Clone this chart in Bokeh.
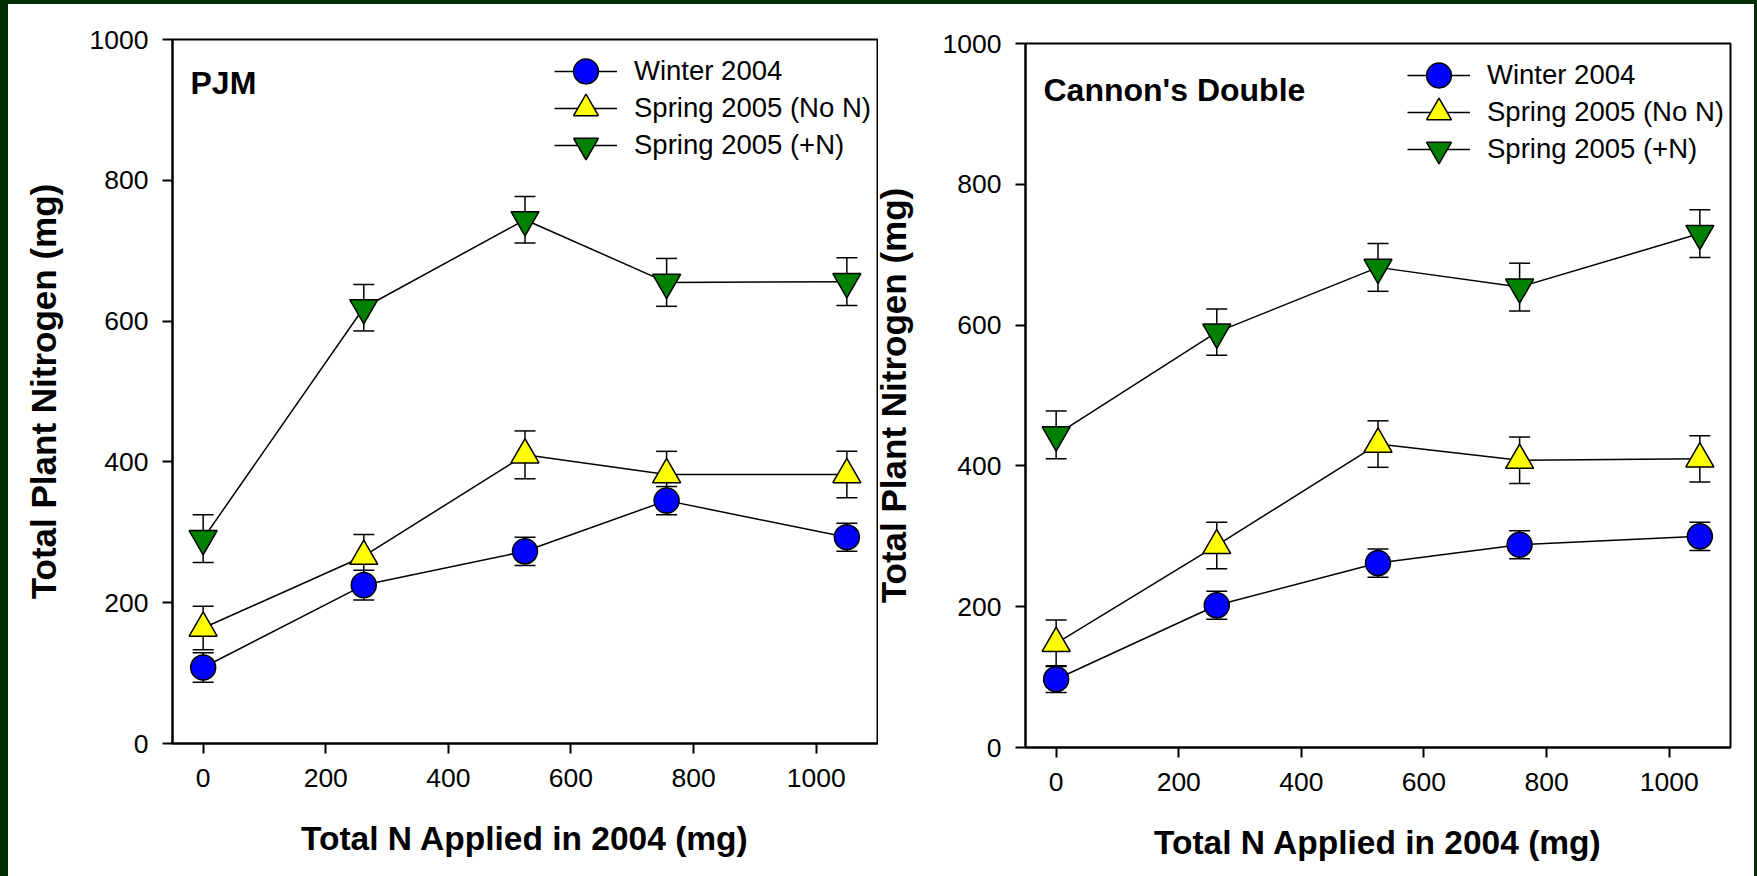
from bokeh.plotting import figure
from bokeh.models import (ColumnDataSource, Whisker, TeeHead, Legend, LegendItem,
                          Label, FixedTicker, Range1d)
from bokeh.layouts import row, column
from bokeh.embed import file_html
from bokeh.resources import INLINE

# ---------------- data ----------------
n_applied = [0, 262, 525, 756, 1050]

pjm_winter = [108, 225, 273, 345, 293]
pjm_winter_err = [21, 21, 20, 20, 20]
pjm_spring_non = [164, 266, 410, 382, 382]
pjm_spring_non_err = [31, 31, 34, 33, 33]
pjm_spring_plus = [291, 619, 744, 655, 656]
pjm_spring_plus_err = [34, 33, 33, 34, 34]

cannon_winter = [97, 202, 262, 288, 300]
cannon_winter_err = [19, 20, 20, 20, 20]
cannon_spring_non = [148, 287, 431, 408, 410]
cannon_spring_non_err = [33, 33, 33, 33, 33]
cannon_spring_plus = [444, 590, 682, 654, 730]
cannon_spring_plus_err = [34, 33, 34, 34, 34]

series_names = ["Winter 2004", "Spring 2005 (No N)", "Spring 2005 (+N)"]
x_ticks = [0, 200, 400, 600, 800, 1000]
y_ticks = [0, 200, 400, 600, 800, 1000]
x_label = "Total N Applied in 2004 (mg)"
y_label = "Total Plant Nitrogen (mg)"

FONT = "Liberation Sans"
BG_GREEN = "#022c02"


def make_panel(title, title_y, series, width, height, left, right, top, bottom,
               ylab_standoff, border_fill="white"):
    p = figure(width=width, height=height, output_backend="svg", toolbar_location=None,
               x_range=Range1d(-50, 1100), y_range=Range1d(0, 1000),
               min_border_left=left, min_border_right=right,
               min_border_top=top, min_border_bottom=bottom)
    p.background_fill_color = "white"
    p.border_fill_color = border_fill
    p.outline_line_color = "black"
    p.outline_line_width = 2
    p.xgrid.visible = False
    p.ygrid.visible = False

    for ax, ticks in ((p.xaxis[0], x_ticks), (p.yaxis[0], y_ticks)):
        ax.ticker = FixedTicker(ticks=ticks, minor_ticks=[])
        ax.axis_line_width = 2
        ax.axis_line_color = "black"
        ax.major_tick_line_width = 2
        ax.major_tick_line_color = "black"
        ax.major_tick_out = 10
        ax.major_tick_in = 0
        ax.minor_tick_line_color = None
        ax.major_label_text_font = FONT
        ax.major_label_text_font_size = "26.5px"
        ax.major_label_text_color = "black"
        ax.axis_label_text_font = FONT
        ax.axis_label_text_font_style = "bold"
        ax.axis_label_text_color = "black"
    p.xaxis.major_label_standoff = 15
    p.yaxis.major_label_standoff = 14
    p.xaxis.axis_label = x_label
    p.yaxis.axis_label = y_label
    p.xaxis.axis_label_text_font_size = "33.5px"
    p.yaxis.axis_label_text_font_size = "35px"
    p.xaxis.axis_label_standoff = 30
    p.yaxis.axis_label_standoff = ylab_standoff

    styles = [("circle", "#0000ff", 25), ("triangle", "#ffff00", 28),
              ("inverted_triangle", "#008000", 28)]
    legend_bottoms = [641.5, 604.5, 567.5]
    for name, (vals, errs), (marker, color, size), lb in zip(series_names, series, styles,
                                                              legend_bottoms):
        src = ColumnDataSource(dict(
            x=n_applied, y=vals,
            upper=[v + e for v, e in zip(vals, errs)],
            lower=[v - e for v, e in zip(vals, errs)]))
        w = Whisker(base="x", upper="upper", lower="lower", source=src,
                    line_color="black", line_width=1.5,
                    upper_head=TeeHead(size=21, line_width=1.5, line_color="black"),
                    lower_head=TeeHead(size=21, line_width=1.5, line_color="black"))
        p.add_layout(w)
        lr = p.line("x", "y", source=src, line_color="black", line_width=1.5)
        sr = p.scatter("x", "y", source=src, marker=marker, size=size,
                       fill_color=color, line_color="black", line_width=1.5)
        legend = Legend(items=[LegendItem(label=name, renderers=[lr, sr])],
                        location=(382, lb), glyph_width=63, glyph_height=62,
                        spacing=0, padding=0, margin=0, label_standoff=17,
                        label_text_font=FONT, label_text_font_size="27.5px",
                        label_text_color="black",
                        border_line_alpha=0, background_fill_alpha=0)
        p.add_layout(legend)

    p.add_layout(Label(x=18, y=title_y, x_units="screen", y_units="screen", text=title,
                       text_font=FONT, text_font_size="32px", text_font_style="bold",
                       text_color="black", text_baseline="alphabetic"))
    return p


p1 = make_panel("PJM", 661,
                [(pjm_winter, pjm_winter_err), (pjm_spring_non, pjm_spring_non_err),
                 (pjm_spring_plus, pjm_spring_plus_err)],
                width=870, height=868, left=164, right=1, top=35, bottom=129,
                ylab_standoff=24)

# the right panel overlaps the left one by 10 px; its border is transparent
p2 = make_panel("Cannon's Double", 658,
                [(cannon_winter, cannon_winter_err), (cannon_spring_non, cannon_spring_non_err),
                 (cannon_spring_plus, cannon_spring_plus_err)],
                width=886, height=868, left=157, right=24, top=35, bottom=129,
                ylab_standoff=27, border_fill=None)
p2.margin = (4, 0, 0, -10)

inner = row(p1, p2, spacing=0, styles={"background-color": "white"})
inner.margin = (4, 3, 0, 8)
layout = column(inner, styles={"background-color": BG_GREEN})

open("out.html", "w").write(file_html(layout, INLINE))
